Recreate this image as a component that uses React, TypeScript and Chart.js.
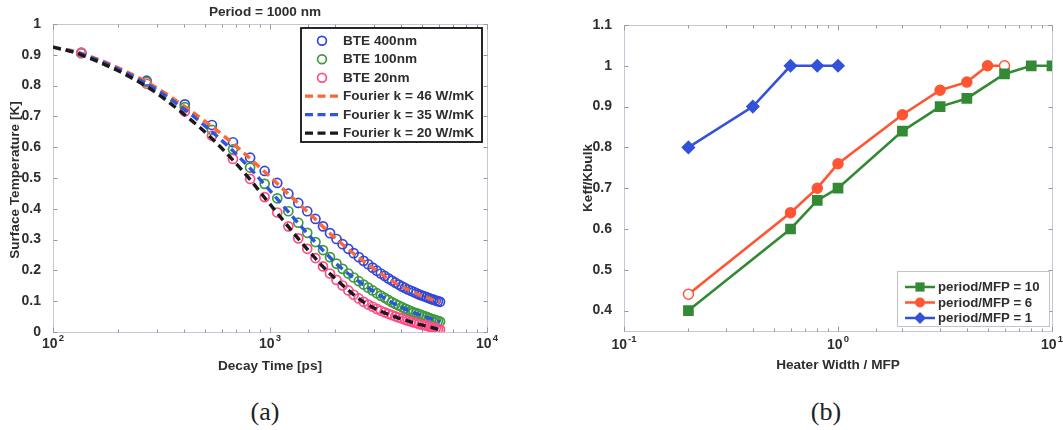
import React, { useEffect, useRef } from "react";
import { Chart, registerables } from "chart.js";
Chart.register(...registerables);

const FONT = '"Liberation Sans", Arial, Helvetica, sans-serif';
const TEXT = "#2e2e2e";

// ---------- Panel (a) data ----------
const bteTimes = [135, 270, 405, 540, 675, 810, 945, 1080,
  1215, 1350, 1485, 1620, 1755, 1890,
  2025, 2160, 2295, 2430, 2565, 2700,
  2835, 2970, 3105, 3240, 3375, 3510,
  3645, 3780, 3915, 4050, 4185, 4320,
  4455, 4590, 4725, 4860, 4995, 5130,
  5265, 5400, 5535, 5670, 5805, 5940,
  6075];
const bte400 = [0.906, 0.816, 0.739, 0.672, 0.616, 0.566, 0.523, 0.484,
  0.449, 0.419, 0.392, 0.367, 0.343, 0.321,
  0.302, 0.285, 0.270, 0.256, 0.243, 0.231,
  0.220, 0.209, 0.199, 0.190, 0.182, 0.174,
  0.167, 0.160, 0.154, 0.148, 0.143, 0.138,
  0.134, 0.130, 0.126, 0.122, 0.119, 0.116,
  0.113, 0.110, 0.107, 0.105, 0.102, 0.100,
  0.098];
const bte100 = [0.905, 0.812, 0.730, 0.656, 0.593, 0.534, 0.481, 0.434,
  0.392, 0.355, 0.322, 0.292, 0.266, 0.243,
  0.222, 0.205, 0.190, 0.177, 0.165, 0.154,
  0.144, 0.135, 0.126, 0.118, 0.111, 0.104,
  0.097, 0.091, 0.086, 0.081, 0.076, 0.072,
  0.068, 0.064, 0.061, 0.058, 0.055, 0.052,
  0.049, 0.046, 0.043, 0.041, 0.038, 0.036,
  0.034];
const bte20 = [0.907, 0.806, 0.716, 0.637, 0.562, 0.497, 0.438, 0.388,
  0.343, 0.304, 0.270, 0.240, 0.213, 0.190,
  0.169, 0.151, 0.135, 0.121, 0.109, 0.098,
  0.089, 0.082, 0.075, 0.069, 0.064, 0.059,
  0.055, 0.051, 0.047, 0.044, 0.040, 0.037,
  0.034, 0.031, 0.029, 0.026, 0.024, 0.022,
  0.020, 0.018, 0.016, 0.014, 0.012, 0.010,
  0.008];
const fourierTimes = [100, 135, 270, 405, 540, 675, 810, 945, 1080,
  1215, 1350, 1485, 1620, 1755, 1890,
  2025, 2160, 2295, 2430, 2565, 2700,
  2835, 2970, 3105, 3240, 3375, 3510,
  3645, 3780, 3915, 4050, 4185, 4320,
  4455, 4590, 4725, 4860, 4995, 5130,
  5265, 5400, 5535, 5670, 5805, 5940,
  6075];
const fourier46 = [0.925, 0.905, 0.812, 0.732, 0.667, 0.612, 0.563, 0.520, 0.482,
  0.448, 0.418, 0.391, 0.366, 0.342, 0.320,
  0.301, 0.284, 0.269, 0.255, 0.242, 0.230,
  0.219, 0.208, 0.198, 0.189, 0.181, 0.173,
  0.166, 0.159, 0.153, 0.147, 0.142, 0.137,
  0.133, 0.129, 0.125, 0.121, 0.118, 0.115,
  0.112, 0.109, 0.106, 0.104, 0.101, 0.099,
  0.097];
const fourier35 = [0.925, 0.903, 0.806, 0.722, 0.650, 0.588, 0.531, 0.478, 0.432,
  0.390, 0.353, 0.320, 0.291, 0.265, 0.242,
  0.221, 0.204, 0.189, 0.176, 0.164, 0.153,
  0.143, 0.134, 0.125, 0.117, 0.110, 0.103,
  0.096, 0.090, 0.085, 0.080, 0.075, 0.071,
  0.067, 0.063, 0.060, 0.057, 0.054, 0.051,
  0.048, 0.045, 0.043, 0.040, 0.038, 0.036,
  0.034];
const fourier20 = [0.925, 0.900, 0.797, 0.705, 0.628, 0.558, 0.495, 0.436, 0.386,
  0.342, 0.303, 0.269, 0.239, 0.212, 0.189,
  0.170, 0.152, 0.136, 0.121, 0.108, 0.097,
  0.088, 0.080, 0.073, 0.067, 0.062, 0.057,
  0.053, 0.049, 0.045, 0.042, 0.039, 0.036,
  0.033, 0.030, 0.028, 0.025, 0.023, 0.021,
  0.019, 0.017, 0.015, 0.013, 0.011, 0.009,
  0.008];
const aLabels = ["BTE 400nm", "BTE 100nm", "BTE 20nm", "Fourier k = 46 W/mK", "Fourier k = 35 W/mK", "Fourier k = 20 W/mK"];
const aYTicks = [0, 0.1, 0.2, 0.3, 0.4, 0.5, 0.6, 0.7, 0.8, 0.9, 1];
const aXMajor = [100, 1000, 10000];
const aXMajorExp = ["2", "3", "4"];
const aTitle = "Period = 1000 nm";
const aXTitle = "Decay Time [ps]";
const aYTitle = "Surface Temperature [K]";

// ---------- Panel (b) data ----------
const heater10 = [0.2, 0.6, 0.8, 1, 2, 3, 4, 6, 8, 10];
const keff10 = [0.4, 0.6, 0.67, 0.7, 0.84, 0.9, 0.92, 0.98, 1.0, 1.0];
const heater6 = [0.2, 0.6, 0.8, 1, 2, 3, 4, 5, 6];
const keff6 = [0.44, 0.64, 0.7, 0.76, 0.88, 0.94, 0.96, 1.0, 1.0];
const heater1 = [0.2, 0.4, 0.6, 0.8, 1];
const keff1 = [0.8, 0.9, 1.0, 1.0, 1.0];
const bLabels = ["period/MFP = 10", "period/MFP = 6", "period/MFP = 1"];
const bYTicks = [0.4, 0.5, 0.6, 0.7, 0.8, 0.9, 1, 1.1];
const bXMajor = [0.1, 1, 10];
const bXMajorExp = ["-1", "0", "1"];
const bXTitle = "Heater Width / MFP";
const bYTitle = "Keff/Kbulk";

// colours
const A_BLUE = "#3348d6";
const A_GREEN = "#3d9a3d";
const A_PINK = "#ff4d8a";
const A_ORANGE = "#ff6633";
const A_DBLUE = "#2f55e0";
const A_BLACK = "#1a1a1a";
const B_GREEN = "#348a34";
const B_ORANGE = "#ff5533";
const B_BLUE = "#3252d8";

const toXY = (xs: number[], ys: number[]) => xs.map((x, i) => ({ x, y: ys[i] }));

function drawFrame(chart: any) {
  const { ctx, chartArea: a, scales } = chart;
  ctx.save();
  ctx.strokeStyle = "#c3c7d6";
  ctx.lineWidth = 1;
  const L = Math.round(a.left) + 0.5, T = Math.round(a.top) + 0.5;
  const R = Math.round(a.right) + 0.5, B = Math.round(a.bottom) + 0.5;
  ctx.strokeRect(L, T, R - L, B - T);
  ctx.strokeStyle = "#8f96b0";
  ctx.beginPath();
  scales.x.ticks.forEach((t: any) => {
    const px = Math.round(scales.x.getPixelForValue(t.value)) + 0.5;
    const lg = Math.log10(t.value);
    const major = Math.abs(lg - Math.round(lg)) < 1e-6;
    const len = major ? 5 : 3;
    ctx.moveTo(px, B); ctx.lineTo(px, B - len);
    ctx.moveTo(px, T); ctx.lineTo(px, T + len);
  });
  scales.y.ticks.forEach((t: any) => {
    const py = Math.round(scales.y.getPixelForValue(t.value)) + 0.5;
    ctx.moveTo(L, py); ctx.lineTo(L + 4, py);
    ctx.moveTo(R, py); ctx.lineTo(R - 4, py);
  });
  ctx.stroke();
  ctx.restore();
}

function drawPow(ctx: CanvasRenderingContext2D, x: number, y: number, exp: string) {
  ctx.save();
  ctx.fillStyle = TEXT;
  ctx.textBaseline = "alphabetic";
  ctx.textAlign = "left";
  ctx.font = `bold 14px ${FONT}`;
  const w1 = ctx.measureText("10").width;
  ctx.font = `bold 9.5px ${FONT}`;
  const w2 = ctx.measureText(exp).width;
  const x0 = x - (w1 + w2 + 1) / 2;
  ctx.font = `bold 14px ${FONT}`;
  ctx.fillText("10", x0, y);
  ctx.font = `bold 9.5px ${FONT}`;
  ctx.fillText(exp, x0 + w1 + 1, y - 7.5);
  ctx.restore();
}

function drawText(ctx: CanvasRenderingContext2D, s: string, x: number, y: number, size: number, rot = 0, align: CanvasTextAlign = "center") {
  ctx.save();
  ctx.translate(x, y);
  ctx.rotate(rot);
  ctx.fillStyle = TEXT;
  ctx.font = `bold ${size}px ${FONT}`;
  ctx.textAlign = align;
  ctx.textBaseline = "middle";
  ctx.fillText(s, 0, 0);
  ctx.restore();
}

function PanelA() {
  const ref = useRef<HTMLCanvasElement>(null);
  useEffect(() => {
    const plugin = {
      id: "panelA",
      beforeDatasetsDraw(chart: any) { drawFrame(chart); },
      afterDatasetsDraw(chart: any) {
        const ctx: CanvasRenderingContext2D = chart.ctx;
        ctx.save();
        ctx.fillStyle = "#fff";
        ctx.fillRect(301, 28, 181, 114);
        ctx.strokeStyle = "#111";
        ctx.lineWidth = 1.8;
        ctx.strokeRect(301, 28, 181, 114);
        const cols = [A_BLUE, A_GREEN, A_PINK, A_ORANGE, A_DBLUE, A_BLACK];
        aLabels.forEach((lab, i) => {
          const y = 40.7 + i * 18.5;
          ctx.save();
          if (i < 3) {
            ctx.strokeStyle = cols[i];
            ctx.lineWidth = 1.7;
            ctx.beginPath();
            ctx.arc(322, y, 4.4, 0, Math.PI * 2);
            ctx.stroke();
          } else {
            ctx.strokeStyle = cols[i];
            ctx.lineWidth = 3.2;
            ctx.setLineDash([8, 4.5]);
            ctx.beginPath();
            ctx.moveTo(305, y);
            ctx.lineTo(341, y);
            ctx.stroke();
          }
          ctx.restore();
          drawText(ctx, lab, 343, y + 0.5, 13.6, 0, "left");
        });
        ctx.restore();
      },
      afterDraw(chart: any) {
        const ctx: CanvasRenderingContext2D = chart.ctx;
        const xs = chart.scales.x;
        aXMajor.forEach((v, i) => drawPow(ctx, xs.getPixelForValue(v), 348, aXMajorExp[i]));
        drawText(ctx, aTitle, 265, 12, 13.6);
        drawText(ctx, aXTitle, 270, 366, 13.6);
        drawText(ctx, aYTitle, 15, 180, 13.6, -Math.PI / 2);
      },
    };
    const ptDs = (label: string, ys: number[], color: string, order: number) => ({
      label, data: toXY(bteTimes, ys), showLine: false, borderColor: color,
      pointBorderColor: color, pointBackgroundColor: "rgba(255,255,255,0)",
      pointRadius: 4.5, pointBorderWidth: 1.7, order,
    });
    const lnDs = (label: string, ys: number[], color: string, order: number) => ({
      label, data: toXY(fourierTimes, ys), borderColor: color, borderWidth: 3.4,
      borderDash: [8, 5], pointRadius: 0, fill: false, cubicInterpolationMode: "monotone", order,
    });
    const chart = new Chart(ref.current!, {
      type: "line",
      data: {
        datasets: [
          ptDs(aLabels[0], bte400, A_BLUE, 5),
          ptDs(aLabels[1], bte100, A_GREEN, 4),
          ptDs(aLabels[2], bte20, A_PINK, 3),
          lnDs(aLabels[3], fourier46, A_ORANGE, 2),
          lnDs(aLabels[4], fourier35, A_DBLUE, 1),
          lnDs(aLabels[5], fourier20, A_BLACK, 0),
        ] as any,
      },
      options: {
        responsive: false,
        animation: false,
        events: [],
        layout: { padding: { left: 0, right: 43, top: 24, bottom: 0 } },
        plugins: { legend: { display: false }, tooltip: { enabled: false }, title: { display: false } },
        scales: {
          x: {
            type: "logarithmic", min: 100, max: 10000,
            grid: { display: false }, border: { display: false },
            ticks: { display: false, autoSkip: false },
            afterFit: (s: any) => { s.height = 48; },
          },
          y: {
            type: "linear", min: 0, max: 1,
            grid: { display: false }, border: { display: false },
            afterBuildTicks: (s: any) => { s.ticks = aYTicks.map((v) => ({ value: v })); },
            ticks: {
              padding: 4, color: TEXT, font: { family: FONT, size: 14, weight: "bold" },
              callback: (v: any) => String(Math.round(Number(v) * 10) / 10),
            },
            afterFit: (s: any) => { s.width = 53; },
          },
        },
      } as any,
      plugins: [plugin],
    });
    return () => chart.destroy();
  }, []);
  return <canvas ref={ref} width={530} height={380} style={{ position: "absolute", left: 0, top: 0, width: 530, height: 380 }} />;
}

function PanelB() {
  const ref = useRef<HTMLCanvasElement>(null);
  useEffect(() => {
    const plugin = {
      id: "panelB",
      beforeDatasetsDraw(chart: any) { drawFrame(chart); },
      afterDatasetsDraw(chart: any) {
        const ctx: CanvasRenderingContext2D = chart.ctx;
        ctx.save();
        ctx.fillStyle = "#fff";
        ctx.fillRect(367.5, 271.5, 152, 55);
        ctx.strokeStyle = "#c4c4c4";
        ctx.lineWidth = 1;
        ctx.strokeRect(367.5, 271.5, 152, 55);
        const cols = [B_GREEN, B_ORANGE, B_BLUE];
        const rows = [287, 302.5, 318];
        bLabels.forEach((lab, i) => {
          const y = rows[i];
          ctx.save();
          ctx.strokeStyle = cols[i];
          ctx.fillStyle = cols[i];
          ctx.lineWidth = 2.5;
          ctx.beginPath();
          ctx.moveTo(375, y);
          ctx.lineTo(405, y);
          ctx.stroke();
          ctx.beginPath();
          if (i === 0) ctx.rect(390 - 4.6, y - 4.6, 9.2, 9.2);
          else if (i === 1) ctx.arc(390, y, 5, 0, Math.PI * 2);
          else { ctx.moveTo(390, y - 6); ctx.lineTo(396, y); ctx.lineTo(390, y + 6); ctx.lineTo(384, y); ctx.closePath(); }
          ctx.fill();
          ctx.restore();
          drawText(ctx, lab, 408, y + 0.5, 13.2, 0, "left");
        });
        ctx.restore();
      },
      afterDraw(chart: any) {
        const ctx: CanvasRenderingContext2D = chart.ctx;
        const xs = chart.scales.x;
        bXMajor.forEach((v, i) => drawPow(ctx, xs.getPixelForValue(v), 349, bXMajorExp[i]));
        drawText(ctx, bXTitle, 308, 365, 13.6);
        drawText(ctx, bYTitle, 58, 178, 13.6, -Math.PI / 2);
      },
    };
    const ds = (label: string, xs: number[], ys: number[], color: string, style: string, r: number, fills: any) => ({
      label, data: toXY(xs, ys), borderColor: color, borderWidth: 2.6, pointStyle: style,
      pointRadius: r, pointBorderColor: color, pointBackgroundColor: fills, pointBorderWidth: 1.5,
      fill: false, tension: 0,
    });
    const chart = new Chart(ref.current!, {
      type: "line",
      data: {
        datasets: [
          ds(bLabels[0], heater10, keff10, B_GREEN, "rect", 6.5, B_GREEN),
          ds(bLabels[1], heater6, keff6, B_ORANGE, "circle", 5,
            heater6.map((_, i) => (i === 0 || i === heater6.length - 1 ? "#fff" : B_ORANGE))),
          ds(bLabels[2], heater1, keff1, B_BLUE, "rectRot", 6, B_BLUE),
        ] as any,
      },
      options: {
        responsive: false,
        animation: false,
        events: [],
        layout: { padding: { left: 0, right: 11, top: 25, bottom: 0 } },
        plugins: { legend: { display: false }, tooltip: { enabled: false }, title: { display: false } },
        scales: {
          x: {
            type: "logarithmic", min: 0.1, max: 10,
            grid: { display: false }, border: { display: false },
            ticks: { display: false, autoSkip: false },
            afterFit: (s: any) => { s.height = 49; },
          },
          y: {
            type: "linear", min: 0.35, max: 1.1,
            grid: { display: false }, border: { display: false },
            afterBuildTicks: (s: any) => { s.ticks = bYTicks.map((v) => ({ value: v })); },
            ticks: {
              padding: 4, color: TEXT, font: { family: FONT, size: 14, weight: "bold" },
              callback: (v: any) => String(Math.round(Number(v) * 10) / 10),
            },
            afterFit: (s: any) => { s.width = 94; },
          },
        },
      } as any,
      plugins: [plugin],
    });
    return () => chart.destroy();
  }, []);
  return <canvas ref={ref} width={533} height={380} style={{ position: "absolute", left: 530, top: 0, width: 533, height: 380 }} />;
}

export default function App() {
  const cap: React.CSSProperties = {
    position: "absolute", top: 397, width: 60, height: 30, lineHeight: "30px", textAlign: "center",
    fontFamily: '"Liberation Serif", "Times New Roman", serif', fontSize: 26, color: "#222",
  };
  return (
    <div style={{ position: "absolute", left: 0, top: 0, width: 1063, height: 430, background: "#fff", overflow: "hidden" }}>
      <PanelA />
      <PanelB />
      <div style={{ ...cap, left: 235 }}>(a)</div>
      <div style={{ ...cap, left: 796 }}>(b)</div>
    </div>
  );
}
